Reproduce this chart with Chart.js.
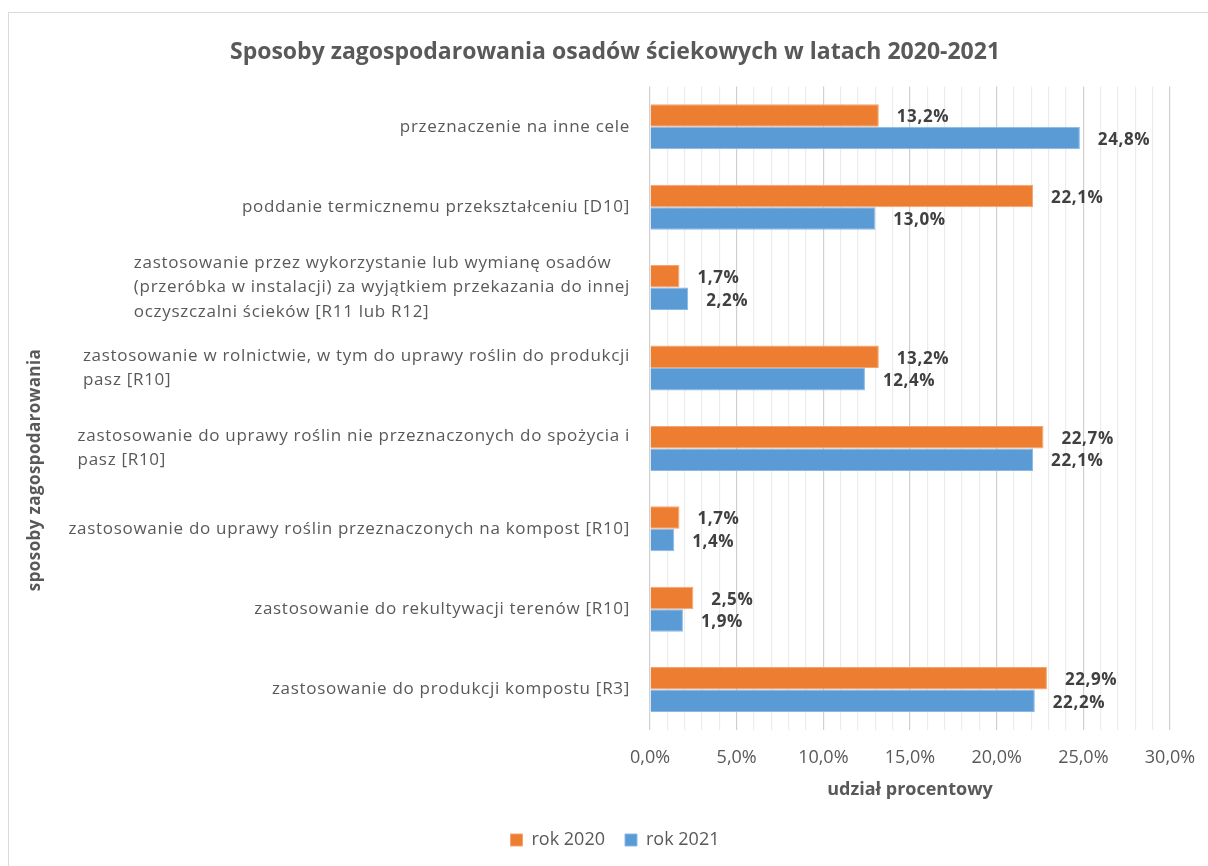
<!DOCTYPE html>
<html>
<head>
<meta charset="utf-8">
<script src="https://cdn.jsdelivr.net/npm/chart.js@4/dist/chart.umd.min.js"></script>
<style>
  html, body { margin: 0; padding: 0; background: #fff; overflow: hidden; }
  #frame { position: absolute; left: 8px; top: 12px; width: 1212px; height: 870px; border: 1px solid #d9d9d9; }
  #chart { display: block; }
</style>
</head>
<body>
<div id="frame"><canvas id="chart" width="1212" height="853"></canvas></div>
<script>
const categories = [
    'przeznaczenie na inne cele',
    'poddanie termicznemu przekształceniu [D10]',
    ['zastosowanie przez wykorzystanie lub wymianę osadów', '(przeróbka w instalacji) za wyjątkiem przekazania do innej', 'oczyszczalni ścieków [R11 lub R12]'],
    ['zastosowanie w rolnictwie, w tym do uprawy roślin do produkcji', 'pasz [R10]'],
    ['zastosowanie do uprawy roślin nie przeznaczonych do spożycia i', 'pasz [R10]'],
    'zastosowanie do uprawy roślin przeznaczonych na kompost [R10]',
    'zastosowanie do rekultywacji terenów [R10]',
    'zastosowanie do produkcji kompostu [R3]'
];
const rok2020 = [13.2, 22.1, 1.7, 13.2, 22.7, 1.7, 2.5, 22.9];
const rok2021 = [24.8, 13.0, 2.2, 12.4, 22.1, 1.4, 1.9, 22.2];
const seriesNames = ['rok 2020', 'rok 2021'];
const xTicks = [0, 5, 10, 15, 20, 25, 30];

const FONT = '"Open Sans", Lato, sans-serif';
const TEXT = '#595959';

function pct(v) {
    return v.toFixed(1).replace('.', ',') + '%';
}

// value labels next to bar ends
const valueLabels = {
    id: 'valueLabels',
    afterDatasetsDraw(chart) {
        const ctx = chart.ctx;
        ctx.save();
        ctx.font = 'bold 17px ' + FONT;
        ctx.letterSpacing = '0.6px';
        ctx.fillStyle = '#404040';
        ctx.textAlign = 'left';
        ctx.textBaseline = 'middle';
        chart.data.datasets.forEach((ds, di) => {
            chart.getDatasetMeta(di).data.forEach((bar, i) => {
                ctx.fillText(pct(ds.data[i]), bar.x + 18, bar.y + 2);
            });
        });
        ctx.restore();
    }
};

// category labels: block right-aligned, lines left-aligned (like Excel)
const categoryLabels = {
    id: 'categoryLabels',
    afterDraw(chart) {
        const ctx = chart.ctx;
        const y = chart.scales.y;
        ctx.save();
        ctx.font = '17px ' + FONT;
        ctx.letterSpacing = '0.7px';
        ctx.fillStyle = TEXT;
        ctx.textAlign = 'left';
        ctx.textBaseline = 'middle';
        categories.forEach((lab, i) => {
            const lines = Array.isArray(lab) ? lab : [lab];
            const w = Math.max(...lines.map(l => ctx.measureText(l).width));
            const x = y.right - 20 - w;
            const cy = y.getPixelForTick(i);
            const lh = 24.5;
            lines.forEach((l, k) => {
                ctx.fillText(l, x, cy + (k - (lines.length - 1) / 2) * lh);
            });
        });
        // y axis title, centred on the whole chart
        ctx.font = 'bold 17px ' + FONT;
        ctx.letterSpacing = '0.4px';
        ctx.textAlign = 'center';
        ctx.translate(26, 457);
        ctx.rotate(-Math.PI / 2);
        ctx.fillText('sposoby zagospodarowania', 0, 0);
        ctx.restore();
    }
};

new Chart(document.querySelector('#chart'), {
    type: 'bar',
    data: {
        labels: categories,
        datasets: [{
            label: seriesNames[0],
            data: rok2020,
            backgroundColor: '#ED7D31',
            borderColor: '#f4a46f',
            borderWidth: 1
        }, {
            label: seriesNames[1],
            data: rok2021,
            backgroundColor: '#5B9BD5',
            borderColor: '#8ab8e3',
            borderWidth: 1
        }]
    },
    options: {
        indexAxis: 'y',
        responsive: false,
        animation: false,
        layout: { padding: { left: 51, right: 51, top: 0, bottom: 7 } },
        datasets: { bar: { categoryPercentage: 0.56, barPercentage: 1 } },
        scales: {
            x: {
                min: 0,
                max: 30,
                ticks: {
                    stepSize: 1,
                    autoSkip: false,
                    maxRotation: 0,
                    padding: 17,
                    color: TEXT,
                    font: { family: FONT, size: 18 },
                    callback: v => xTicks.includes(v) ? pct(v) : ''
                },
                grid: {
                    drawTicks: false,
                    color: c => c.tick && c.tick.value % 5 === 0 ? '#d0d0d0' : '#ececec',
                    lineWidth: 1.2
                },
                border: { display: false },
                title: {
                    display: true,
                    text: 'udział procentowy',
                    color: TEXT,
                    font: { family: FONT, size: 18, weight: 'bold' },
                    padding: { top: -6, bottom: 10 }
                }
            },
            y: {
                ticks: { color: 'rgba(0,0,0,0)', font: { family: FONT, size: 16 } },
                grid: { display: false },
                border: { display: false },
                afterFit(scale) { scale.width = 590; }
            }
        },
        plugins: {
            title: {
                display: true,
                text: 'Sposoby zagospodarowania osadów ściekowych w latach 2020-2021',
                color: TEXT,
                font: { family: FONT, size: 23, weight: 'bold' },
                padding: { top: 26, bottom: 20 }
            },
            legend: {
                position: 'bottom',
                labels: {
                    color: TEXT,
                    font: { family: FONT, size: 18 },
                    boxWidth: 12,
                    boxHeight: 12,
                    padding: 20
                }
            },
            tooltip: { enabled: false }
        }
    },
    plugins: [valueLabels, categoryLabels]
});
</script>
</body>
</html>
